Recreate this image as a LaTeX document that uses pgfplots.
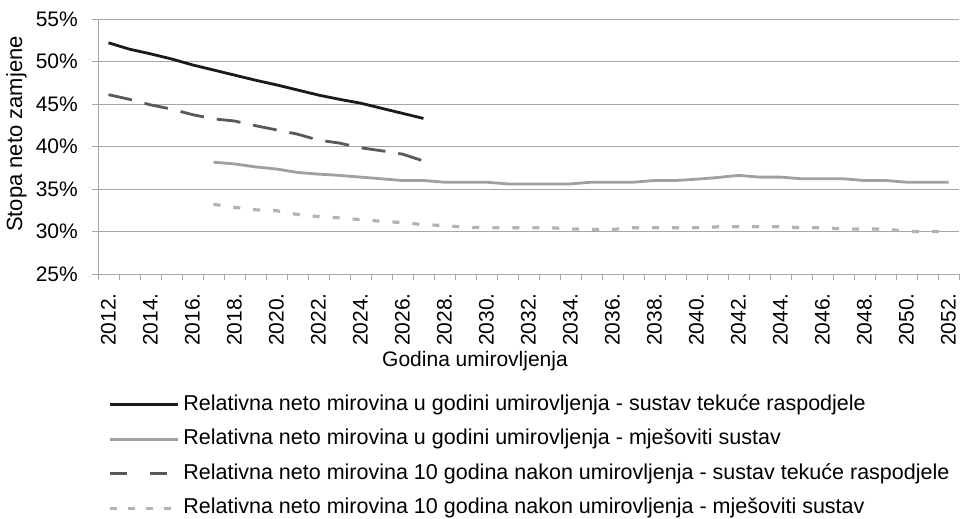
\documentclass[border=0pt]{standalone}
\usepackage{fontspec}
\setmainfont{Liberation Sans}
\usepackage{pgfplots}
\pgfplotsset{compat=1.18}
\definecolor{cblack}{HTML}{1A1A1A}
\definecolor{cgray}{HTML}{A0A0A0}
\definecolor{cdark}{HTML}{595959}
\definecolor{clight}{HTML}{B3B3B3}
\definecolor{cgrid}{HTML}{A6A6A6}
\begin{document}
\fontsize{21}{25}\selectfont
\begin{tikzpicture}
\path[use as bounding box] (-98pt,-245pt) rectangle (864pt,274pt);
\begin{axis}[
  at={(0pt,0pt)}, anchor=south west,
  scale only axis, width=861pt, height=255pt,
  xmin=2011.5, xmax=2052.5, ymin=25, ymax=55,
  axis lines=left,
  axis line style={-, draw=cgrid, line width=0.9pt},
  tick align=outside,
  major tick length=6pt,
  minor tick length=6pt,
  tick style={draw=cgrid, line width=0.9pt},
  ytick={25,30,35,40,45,50,55},
  yticklabels={25\%,30\%,35\%,40\%,45\%,50\%,55\%},
  yticklabel style={xshift=-7pt},
  xtick={2012,2014,...,2052},
  xticklabels={2012.,2014.,2016.,2018.,2020.,2022.,2024.,2026.,2028.,2030.,2032.,2034.,2036.,2038.,2040.,2042.,2044.,2046.,2048.,2050.,2052.},
  xticklabel style={yshift=-6pt, rotate=90, anchor=east},
  major x tick style={draw=none},
  minor xtick={2011.5,2012.5,...,2052.5},
  minor x tick style={draw=cgrid, line width=0.9pt},
  ymajorgrids,
  grid style={draw=cgrid, line width=0.9pt},
  ylabel={Stopa neto zamjene},
  ylabel style={at={(axis description cs:-0.0947,0.549)}, anchor=center, font=\fontsize{22}{26}\selectfont},
  xlabel={Godina umirovljenja},
  xlabel style={at={(axis description cs:0.4379,-0.342)}, anchor=center},
  legend style={draw=none, fill=none, at={(axis description cs:0,0)}, anchor=north west,
    xshift=10pt, yshift=-119pt, inner sep=0pt, row sep=11.5pt,
    font=\fontsize{21.5}{25}\selectfont,
    nodes={inner sep=1pt, text height=16pt, text depth=5pt}},
  legend cell align=left,
  legend image code/.code={\draw[#1] (0pt,0pt) -- (68pt,0pt); \path (71pt,0pt);},
]
\addplot[cblack, line width=2.8pt, line join=round] coordinates {
(2012,52.2) (2013,51.45) (2014,50.9) (2015,50.3) (2016,49.6) (2017,49.0)
(2018,48.4) (2019,47.8) (2020,47.25) (2021,46.65) (2022,46.05) (2023,45.55)
(2024,45.1) (2025,44.5) (2026,43.9) (2027,43.3)};
\addlegendentry{Relativna neto mirovina u godini umirovljenja - sustav tekuće raspodjele}
\addplot[cgray, line width=2.8pt, line join=round] coordinates {
(2017,38.15) (2018,37.95) (2019,37.6) (2020,37.35) (2021,36.95) (2022,36.75)
(2023,36.6) (2024,36.4) (2025,36.2) (2026,36.0) (2027,36.0) (2028,35.8)
(2029,35.8) (2030,35.8) (2031,35.6) (2032,35.6) (2033,35.6) (2034,35.6)
(2035,35.8) (2036,35.8) (2037,35.8) (2038,36.0) (2039,36.0) (2040,36.15)
(2041,36.35) (2042,36.6) (2043,36.4) (2044,36.4) (2045,36.2) (2046,36.2)
(2047,36.2) (2048,36.0) (2049,36.0) (2050,35.8) (2051,35.8) (2052,35.8)};
\addlegendentry{Relativna neto mirovina u godini umirovljenja - mješoviti sustav}
\addplot[cdark, line width=2.8pt, dash pattern=on 24pt off 13pt,
  legend image post style={dash pattern=on 17pt off 23pt}] coordinates {
(2012,46.1) (2013,45.55) (2014,44.9) (2015,44.4) (2016,43.75) (2017,43.25)
(2018,43.0) (2019,42.45) (2020,41.95) (2021,41.45) (2022,40.75) (2023,40.4)
(2024,39.85) (2025,39.5) (2026,39.1) (2027,38.3)};
\addlegendentry{Relativna neto mirovina 10 godina nakon umirovljenja - sustav tekuće raspodjele}
\addplot[clight, line width=3.2pt, dash pattern=on 7pt off 13pt,
  legend image post style={dash pattern=on 7pt off 11pt}] coordinates {
(2017,33.2) (2018,32.85) (2019,32.55) (2020,32.45) (2021,32.0) (2022,31.75)
(2023,31.6) (2024,31.4) (2025,31.2) (2026,31.05) (2027,30.8) (2028,30.7)
(2029,30.5) (2030,30.45) (2031,30.45) (2032,30.45) (2033,30.45) (2034,30.3)
(2035,30.25) (2036,30.25) (2037,30.45) (2038,30.45) (2039,30.45) (2040,30.45)
(2041,30.55) (2042,30.55) (2043,30.55) (2044,30.55) (2045,30.45) (2046,30.45)
(2047,30.3) (2048,30.3) (2049,30.3) (2050,30.0) (2051,30.0) (2052,30.0)};
\addlegendentry{Relativna neto mirovina 10 godina nakon umirovljenja - mješoviti sustav}
\end{axis}
\end{tikzpicture}
\end{document}
